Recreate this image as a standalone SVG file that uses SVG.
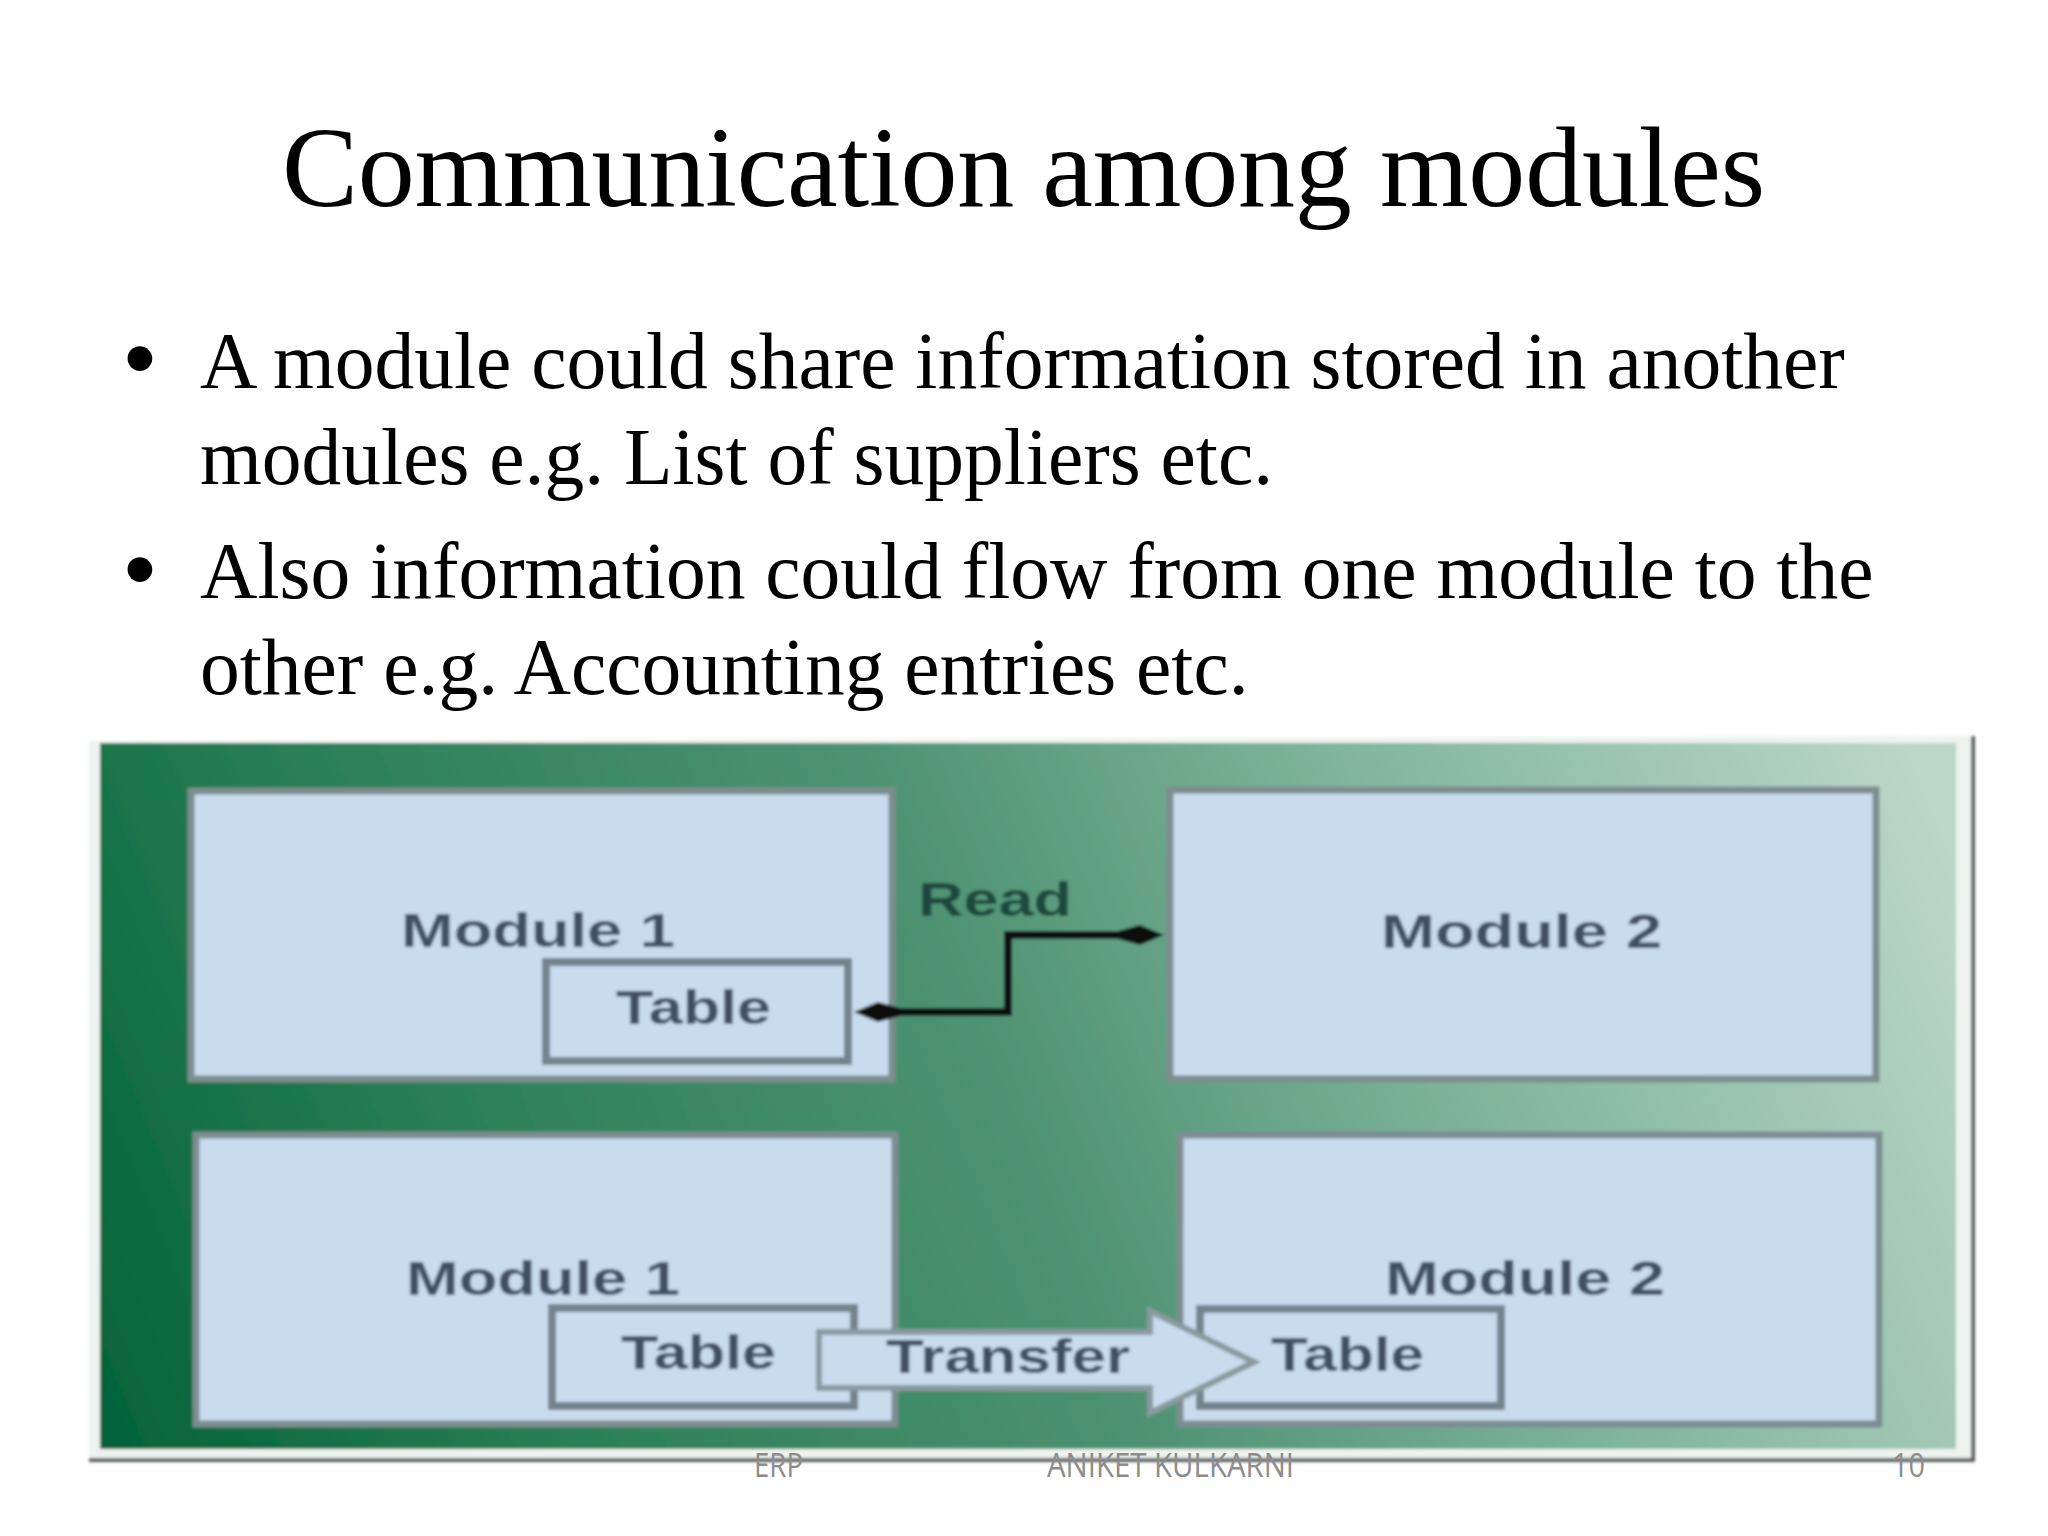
<svg xmlns="http://www.w3.org/2000/svg" width="2048" height="1536" viewBox="0 0 2048 1536">
<style>
.t{font-family:"Liberation Serif","Times New Roman",serif;fill:#000}
.title{font-size:114px}
.body{font-size:79.5px}
.bul{font-family:"Liberation Sans",Arial,sans-serif;font-size:91px;fill:#000}
.box{fill:#c8dcee;stroke:#7d8d90;stroke-width:7}
.tbl{fill:#c8dcee;stroke:#73848e;stroke-width:8}
.lab{font-family:"Liberation Sans",Arial,sans-serif;font-size:49px;font-weight:bold;fill:#414f63}
.foot{font-family:"Open Sans","Noto Sans",sans-serif;font-size:32px;fill:#8c8c8c}
</style>
<defs>
<linearGradient id="bg" gradientUnits="userSpaceOnUse" x1="130" y1="1450" x2="1900" y2="720">
<stop offset="0" stop-color="#05643a"/>
<stop offset=".22" stop-color="#2a7f56"/>
<stop offset=".5" stop-color="#4f9373"/>
<stop offset=".72" stop-color="#7fb59a"/>
<stop offset="1" stop-color="#bcd6c8"/>
</linearGradient>
<filter id="soft" x="-2%" y="-2%" width="104%" height="104%"><feGaussianBlur stdDeviation="1.4"/></filter>
<marker id="ah" markerUnits="userSpaceOnUse" markerWidth="56" markerHeight="26" viewBox="0 0 56 26" refX="14" refY="13" orient="auto-start-reverse">
<path d="M8 9 L30 3 L54 13 L30 23 L8 17 Z" fill="#0b0f0c"/>
</marker>
</defs>
<rect width="2048" height="1536" fill="#fff"/>
<text class="t title" x="282" y="206" textLength="1483">Communication among modules</text>
<text class="bul" x="124" y="389">•</text>
<text class="t body" x="200" y="388">A module could share information stored in another</text>
<text class="t body" x="200" y="484">modules e.g. List of suppliers etc.</text>
<text class="bul" x="124" y="600">•</text>
<text class="t body" x="200" y="598">Also information could flow from one module to the</text>
<text class="t body" x="200" y="694">other e.g. Accounting entries etc.</text>
<g id="picture" filter="url(#soft)">
<path d="M89 741 L1972 736 V1460 H89 Z" fill="#eef3ef"/>
<path d="M1973 736 V1460 H89" fill="none" stroke="#565a5e" stroke-width="4"/>
<rect x="100" y="743" width="1856" height="706" fill="url(#bg)"/>
<g id="module1-top">
<rect class="box" x="191" y="791" width="701" height="288"/>
<text class="lab" x="401" y="947" textLength="274" lengthAdjust="spacingAndGlyphs">Module 1</text>
<rect class="tbl" x="546" y="962" width="302" height="99"/>
<text class="lab" x="616" y="1024" textLength="155" lengthAdjust="spacingAndGlyphs">Table</text>
</g>
<g id="module2-top">
<rect class="box" x="1170" y="790" width="706" height="289"/>
<text class="lab" x="1381" y="948" textLength="281" lengthAdjust="spacingAndGlyphs">Module 2</text>
</g>
<g id="module1-bottom">
<rect class="box" x="196" y="1135" width="699" height="289"/>
<text class="lab" x="406" y="1295" textLength="274" lengthAdjust="spacingAndGlyphs">Module 1</text>
<rect class="tbl" x="552" y="1308" width="302" height="98"/>
<text class="lab" x="621" y="1369" textLength="155" lengthAdjust="spacingAndGlyphs">Table</text>
</g>
<g id="module2-bottom">
<rect class="box" x="1180" y="1135" width="699" height="289"/>
<text class="lab" x="1385" y="1295" textLength="280" lengthAdjust="spacingAndGlyphs">Module 2</text>
<rect class="tbl" x="1200" y="1309" width="301" height="97"/>
<text class="lab" x="1271" y="1371" textLength="153" lengthAdjust="spacingAndGlyphs">Table</text>
</g>
<g id="connectors">
<path d="M894 1012 H1008 V935 H1124" fill="none" stroke="#0b0f0c" stroke-width="8" marker-start="url(#ah)" marker-end="url(#ah)"/>
<path d="M819 1332 H1150 V1311 L1254 1362 L1150 1413 V1388 H819 Z" fill="#c8dcee" stroke="#8a9a9f" stroke-width="6" stroke-linejoin="miter"/>
<text class="lab" x="918" y="916" textLength="154" lengthAdjust="spacingAndGlyphs" style="fill:#1c4a3c">Read</text>
<text class="lab" x="886" y="1373" textLength="244" lengthAdjust="spacingAndGlyphs">Transfer</text>
</g>
</g>
<text class="foot" x="754" y="1477" textLength="49" lengthAdjust="spacingAndGlyphs">ERP</text>
<text class="foot" x="1047" y="1477" textLength="247" lengthAdjust="spacingAndGlyphs">ANIKET KULKARNI</text>
<text class="foot" x="1892" y="1477" textLength="33" lengthAdjust="spacingAndGlyphs">10</text>
</svg>
